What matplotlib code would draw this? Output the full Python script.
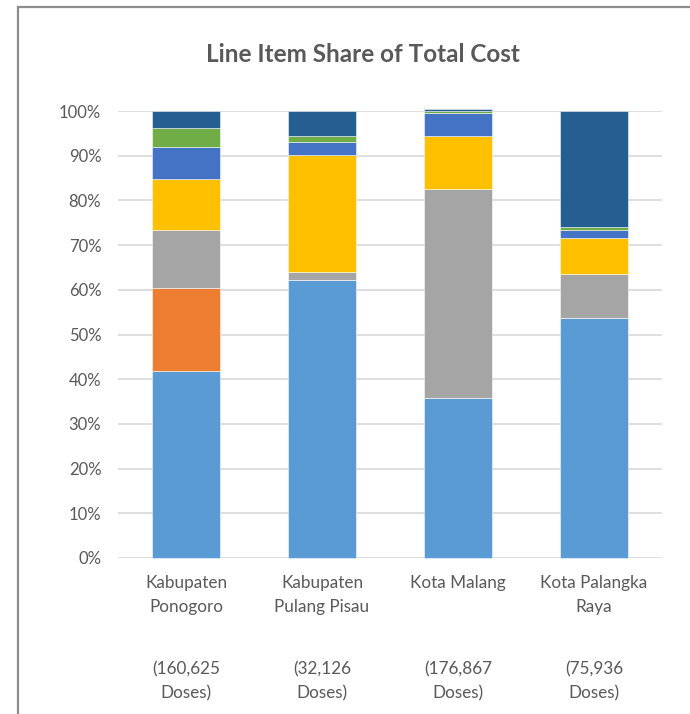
import matplotlib
matplotlib.use("Agg")
import matplotlib.pyplot as plt
from matplotlib.lines import Line2D
import numpy as np

plt.rcParams['font.family'] = ['Lato', 'DejaVu Sans']

categories = ["Kabupaten\nPonogoro", "Kabupaten\nPulang Pisau", "Kota Malang", "Kota Palangka\nRaya"]
doses = ["(160,625\nDoses)", "(32,126\nDoses)", "(176,867\nDoses)", "(75,936\nDoses)"]

# segment shares (percent), bottom to top
seg1 = [41.8, 62.2, 35.8, 53.8]
seg2 = [18.6, 0.0, 0.0, 0.0]
seg3 = [13.0, 1.8, 46.7, 9.7]
seg4 = [11.4, 26.2, 11.9, 8.2]
seg5 = [7.2, 2.9, 5.2, 1.6]
seg6 = [4.2, 1.3, 0.3, 0.7]
seg7 = [3.8, 5.6, 0.6, 25.9]
series = [seg1, seg2, seg3, seg4, seg5, seg6, seg7]
colors = ["#5B9BD5", "#ED7D31", "#A5A5A5", "#FFC000", "#4472C4", "#70AD47", "#255E91"]

yticks = [0, 10, 20, 30, 40, 50, 60, 70, 80, 90, 100]
ytick_labels = [f"{v}%" for v in yticks]

W, H = 690, 714
fig = plt.figure(figsize=(W / 100, H / 100), dpi=100)
ax = fig.add_axes([118 / W, 1 - 558 / H, (662 - 118) / W, (558 - 111) / H])

x = np.arange(len(categories))
bottom = np.zeros(len(categories))
for vals, c in zip(series, colors):
    v = np.array(vals)
    ax.bar(x, v, width=0.5, bottom=bottom, color=c, edgecolor=(1, 1, 1, 0.6),
           linewidth=0.6, zorder=3, clip_on=False)
    bottom += v

ax.set_xlim(-0.5, len(categories) - 0.5)
ax.set_ylim(0, 100)
ax.set_yticks(yticks)
ax.set_yticklabels(ytick_labels)
ax.yaxis.grid(True, color="#D9D9D9", linewidth=1.2, zorder=0)
ax.set_axisbelow(True)
for s in ax.spines.values():
    s.set_visible(False)
ax.tick_params(axis='y', length=0, pad=12, labelsize=12, labelcolor="#595959")
ax.tick_params(axis='x', length=0, labelbottom=False)

for xi, (cat, d) in enumerate(zip(categories, doses)):
    ax.text(xi, -3.9, cat, ha='center', va='top', fontsize=12.3, color="#595959",
            linespacing=1.62, transform=ax.transData)
    ax.text(xi, -23.1, d, ha='center', va='top', fontsize=12.3, color="#595959",
            linespacing=1.62, transform=ax.transData)

fig.text(363 / W, 1 - 55 / H, "Line Item Share of Total Cost", ha='center', va='center',
         fontsize=17.5, fontweight='bold', color="#595959")

# chart frame (left and top visible)
fig.add_artist(Line2D([17.5 / W, 17.5 / W], [0, 1 - 6.5 / H], transform=fig.transFigure,
                      color="#8C8C8C", linewidth=1.6))
fig.add_artist(Line2D([17.5 / W, 1], [1 - 6.5 / H, 1 - 6.5 / H], transform=fig.transFigure,
                      color="#8C8C8C", linewidth=1.6))

fig.savefig("out.png", dpi=100, facecolor="white")
